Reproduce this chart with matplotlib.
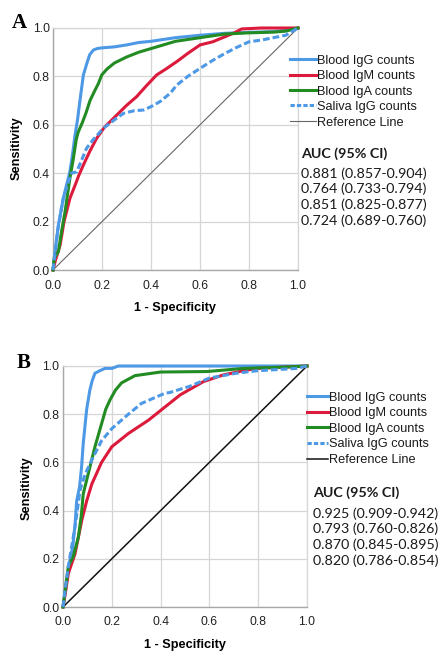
import matplotlib
matplotlib.use("Agg")
import matplotlib.pyplot as plt
from matplotlib.lines import Line2D

# ---------------- data ----------------
series_labels = ["Blood IgG counts", "Blood IgM counts", "Blood IgA counts", "Saliva IgG counts"]
ref_label = "Reference Line"
auc_header = "AUC (95% CI)"
auc_A = ["0.881 (0.857-0.904)", "0.764 (0.733-0.794)", "0.851 (0.825-0.877)", "0.724 (0.689-0.760)"]
auc_B = ["0.925 (0.909-0.942)", "0.793 (0.760-0.826)", "0.870 (0.845-0.895)", "0.820 (0.786-0.854)"]
tick_vals = [0.0, 0.2, 0.4, 0.6, 0.8, 1.0]
tick_labels = ["0.0", "0.2", "0.4", "0.6", "0.8", "1.0"]

# Panel A
igg_A_fpr = [0, 0.01, 0.022, 0.042, 0.055, 0.069, 0.08, 0.09, 0.10, 0.11, 0.124, 0.14, 0.15, 0.165, 0.18, 0.2,
             0.25, 0.3, 0.35, 0.4, 0.5, 0.6, 0.7, 0.8, 0.9, 0.95, 1.0]
igg_A_tpr = [0, 0.09, 0.186, 0.296, 0.35, 0.406, 0.48, 0.558, 0.62, 0.70, 0.806, 0.86, 0.89, 0.909, 0.915, 0.918,
             0.922, 0.93, 0.94, 0.945, 0.96, 0.97, 0.978, 0.982, 0.985, 0.99, 1.0]
igm_A_fpr = [0, 0.01, 0.029, 0.045, 0.069, 0.09, 0.105, 0.124, 0.15, 0.178, 0.21, 0.26, 0.3, 0.341, 0.38, 0.423,
             0.46, 0.505, 0.55, 0.6, 0.652, 0.702, 0.74, 0.77, 0.85, 1.0]
igm_A_tpr = [0, 0.04, 0.103, 0.2, 0.296, 0.35, 0.39, 0.434, 0.49, 0.544, 0.59, 0.64, 0.68, 0.716, 0.76, 0.806,
             0.83, 0.861, 0.895, 0.93, 0.943, 0.964, 0.98, 0.996, 1.0, 1.0]
iga_A_fpr = [0, 0.005, 0.022, 0.035, 0.049, 0.069, 0.083, 0.095, 0.103, 0.12, 0.135, 0.151, 0.17, 0.185, 0.199,
             0.22, 0.25, 0.3, 0.35, 0.4, 0.45, 0.5, 0.6, 0.7, 0.8, 0.9, 0.95, 1.0]
iga_A_tpr = [0, 0.05, 0.076, 0.16, 0.24, 0.38, 0.46, 0.54, 0.57, 0.61, 0.65, 0.70, 0.74, 0.77, 0.806,
             0.83, 0.855, 0.88, 0.90, 0.915, 0.93, 0.945, 0.96, 0.975, 0.98, 0.983, 0.987, 1.0]
sal_A_fpr = [0, 0.01, 0.02, 0.042, 0.063, 0.075, 0.097, 0.115, 0.137, 0.165, 0.205, 0.25, 0.287, 0.33, 0.369,
             0.4, 0.437, 0.478, 0.505, 0.55, 0.6, 0.65, 0.702, 0.75, 0.8, 0.85, 0.9, 0.95, 1.0]
sal_A_tpr = [0, 0.08, 0.17, 0.296, 0.365, 0.40, 0.406, 0.45, 0.503, 0.54, 0.585, 0.62, 0.647, 0.658, 0.661,
             0.675, 0.696, 0.73, 0.764, 0.80, 0.833, 0.865, 0.895, 0.92, 0.943, 0.95, 0.96, 0.97, 1.0]

# Panel B
igg_B_fpr = [0, 0.01, 0.02, 0.03, 0.04, 0.05, 0.056, 0.068, 0.076, 0.083, 0.097, 0.11, 0.12, 0.131, 0.15,
             0.172, 0.2, 0.227, 1.0]
igg_B_tpr = [0, 0.07, 0.14, 0.20, 0.25, 0.35, 0.44, 0.50, 0.58, 0.68, 0.82, 0.90, 0.94, 0.97, 0.98,
             0.99, 0.99, 1.0, 1.0]
igm_B_fpr = [0, 0.01, 0.022, 0.049, 0.077, 0.097, 0.118, 0.158, 0.2, 0.268, 0.35, 0.418, 0.438, 0.48, 0.575,
             0.657, 0.752, 0.8, 1.0]
igm_B_tpr = [0, 0.06, 0.14, 0.22, 0.36, 0.44, 0.51, 0.60, 0.665, 0.72, 0.775, 0.83, 0.846, 0.88, 0.935,
             0.963, 0.983, 0.99, 1.0]
iga_B_fpr = [0, 0.008, 0.022, 0.042, 0.063, 0.075, 0.083, 0.104, 0.131, 0.158, 0.175, 0.193, 0.215, 0.24,
             0.295, 0.4, 0.59, 0.74, 0.9, 1.0]
iga_B_tpr = [0, 0.06, 0.17, 0.21, 0.29, 0.38, 0.47, 0.555, 0.665, 0.76, 0.82, 0.86, 0.90, 0.93,
             0.96, 0.975, 0.977, 0.99, 0.995, 1.0]
sal_B_fpr = [0, 0.01, 0.022, 0.049, 0.07, 0.09, 0.118, 0.158, 0.2, 0.268, 0.322, 0.418, 0.438, 0.52, 0.60,
             0.71, 0.793, 0.957, 1.0]
sal_B_tpr = [0, 0.08, 0.17, 0.33, 0.485, 0.55, 0.61, 0.69, 0.74, 0.80, 0.845, 0.887, 0.89, 0.916, 0.95,
             0.97, 0.98, 0.99, 1.0]

ref_xy = [0.0, 1.0]

# ---------------- style ----------------
W, H = 445, 653
colors = ["#4d99e6", "#dc1a3c", "#228b22", "#4d99e6"]
dashed = [False, False, False, True]
SANS = "Liberation Sans"
CAL = "Lato"

fig = plt.figure(figsize=(W / 100, H / 100), dpi=100)


def fx(x):
    return x / W


def fy(y):
    return 1 - y / H


def make_panel(rect, curves, ref_color, ref_lw, letter, letter_xy, ylab_xy, xlab_xy,
               leg_x0, leg_x1, leg_y, auc_x, auc_head_y, auc_y, auc_vals, ytick_pad, xtick_pad):
    l, t, r, b = rect
    ax = fig.add_axes([fx(l), fy(b), (r - l) / W, (b - t) / H])
    ax.set_xlim(0, 1)
    ax.set_ylim(0, 1)
    ax.set_axisbelow(True)
    ax.grid(True, color="#d6d6d6", lw=0.9)
    for s in ["top", "right"]:
        ax.spines[s].set_color("#d6d6d6")
        ax.spines[s].set_linewidth(0.9)
    for s in ["left", "bottom"]:
        ax.spines[s].set_color("#a8a8a8")
        ax.spines[s].set_linewidth(1.0)
    ax.set_xticks(tick_vals)
    ax.set_yticks(tick_vals)
    ax.set_xticklabels(tick_labels, fontfamily=SANS, fontsize=8.7, color="#222222")
    ax.set_yticklabels(tick_labels, fontfamily=SANS, fontsize=8.7, color="#222222")
    ax.tick_params(axis="x", length=0, pad=xtick_pad)
    ax.tick_params(axis="y", length=0, pad=ytick_pad)

    ax.plot(ref_xy, ref_xy, color=ref_color, lw=ref_lw, zorder=2)
    lines = []
    for (xs, ys), c, d in zip(curves, colors, dashed):
        ln, = ax.plot(xs, ys, color=c, lw=2.2, drawstyle="default", clip_on=False, zorder=3,
                      solid_joinstyle="miter")
        if d:
            ln.set_dashes([2.2, 1.0])
        lines.append(ln)

    # legend (manual, pixel-placed)
    handles_style = [(c, 2.2, d) for c, d in zip(colors, dashed)] + [(ref_color, ref_lw, False)]
    labels = series_labels + [ref_label]
    for (c, lw, d), lab, yy in zip(handles_style, labels, leg_y):
        hl = Line2D([fx(leg_x0), fx(leg_x1)], [fy(yy), fy(yy)], transform=fig.transFigure,
                    color=c, lw=lw)
        if d:
            hl.set_dashes([1.4, 0.7])
        fig.add_artist(hl)
        fig.text(fx(leg_x1 + 1), fy(yy + 4.6), lab, fontfamily=SANS, fontsize=9.2,
                 ha="left", va="baseline", color="#1a1a1a")

    fig.text(fx(auc_x), fy(auc_head_y), auc_header, fontfamily=CAL, fontweight="bold",
             fontsize=10.3, ha="left", va="baseline", color="#1a1a1a")
    for v, yy in zip(auc_vals, auc_y):
        fig.text(fx(auc_x), fy(yy), v, fontfamily=CAL, fontsize=10.3, ha="left",
                 va="baseline", color="#1a1a1a")

    fig.text(fx(letter_xy[0]), fy(letter_xy[1]), letter, fontfamily="Liberation Serif",
             fontweight="bold", fontsize=15, ha="left", va="baseline")
    fig.text(fx(ylab_xy[0]), fy(ylab_xy[1]), "Sensitivity", fontfamily=SANS, fontweight="bold",
             fontsize=9.2, rotation=90, ha="center", va="center")
    fig.text(fx(xlab_xy[0]), fy(xlab_xy[1]), "1 - Specificity", fontfamily=SANS, fontweight="bold",
             fontsize=9.2, ha="center", va="baseline")
    return ax


curves_A = [(igg_A_fpr, igg_A_tpr), (igm_A_fpr, igm_A_tpr), (iga_A_fpr, iga_A_tpr), (sal_A_fpr, sal_A_tpr)]
curves_B = [(igg_B_fpr, igg_B_tpr), (igm_B_fpr, igm_B_tpr), (iga_B_fpr, iga_B_tpr), (sal_B_fpr, sal_B_tpr)]

make_panel((53, 28, 298, 270), curves_A, "#666666", 0.8, "A", (11.5, 28.3), (16.5, 148.5), (175.5, 310.7),
           290, 316, [59.3, 74.5, 90.0, 105.3, 121.0], 300.7, 158.3, [177.7, 193.3, 209.0, 224.9], auc_A,
           2.3, 7.0)
make_panel((63, 366, 307, 607), curves_B, "#111111", 1.1, "B", (17.0, 368.3), (27.0, 488.3), (185.0, 647.7),
           306.7, 328.3, [396.0, 411.7, 427.3, 442.7, 458.7], 312.7, 497.3, [517.7, 533.3, 549.0, 564.7], auc_B,
           2.6, 6.5)

fig.savefig("out.png", dpi=100)
